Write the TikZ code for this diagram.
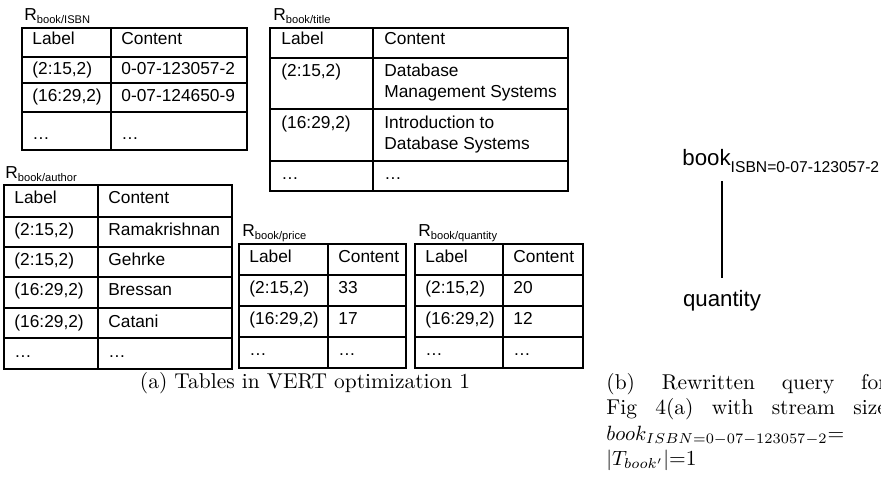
\documentclass[tikz,border=0pt]{standalone}
\usepackage{fontspec}
\newfontfamily\arialfont{Liberation Sans}
\usetikzlibrary{calc}

\tikzset{
  tbl/.style={black, line width=0.65pt},
  cell/.style={anchor=base west, inner sep=0, font=\arialfont\fontsize{8.4}{10}\selectfont},
  capt/.style={inner sep=0, font=\fontsize{10.4}{12.3}\selectfont},
  tree/.style={inner sep=0, font=\arialfont\fontsize{10.8}{13}\selectfont},
}
\newcommand{\rsub}[1]{R\raisebox{-1.3pt}{\fontsize{5.4}{6}\selectfont #1}}

\begin{document}
\begin{tikzpicture}[x=0.485pt, y=-0.485pt]
\useasboundingbox (0,0) rectangle (881,496);
\clip (0,0) rectangle (881,496);

% R_book/ISBN
\node[cell] (risbn) at (24,21) {\rsub{book/ISBN}};
\draw[tbl] (22,28) rectangle (247,150);
\draw[tbl] (111,28)--(111,150);
\foreach \y in {57,83,112} \draw[tbl] (22,\y)--(247,\y);
\foreach \y/\l/\c [count=\i] in {45/Label/Content, 75/{(2:15,2)}/0-07-123057-2, 102/{(16:29,2)}/0-07-124650-9, 140/\dots/\dots} {
 \node[cell] (isbnl\i) at (32,\y) {\l};
 \node[cell] (isbnc\i) at (121,\y) {\c};
}

% R_book/title
\node[cell] (rtitle) at (273,21) {\rsub{book/title}};
\draw[tbl] (270,28) rectangle (568,191);
\draw[tbl] (373,28)--(373,191);
\foreach \y in {58,109,161} \draw[tbl] (270,\y)--(568,\y);
\node[cell] (titlel1) at (281,45) {Label};
\node[cell] (titlec1) at (384,45) {Content};
\node[cell] (titlel2) at (281,77) {(2:15,2)};
\node[cell] (titlec2) at (384,77) {Database};
\node[cell] (titled2) at (384,98) {Management Systems};
\node[cell] (titlel3) at (281,129) {(16:29,2)};
\node[cell] (titlec3) at (384,129) {Introduction to};
\node[cell] (titled3) at (384,150) {Database Systems};
\node[cell] (titlel4) at (281,180) {\dots};
\node[cell] (titlec4) at (384,180) {\dots};

% R_book/author
\node[cell] (rauthor) at (5,179) {\rsub{book/author}};
\draw[tbl] (4,185) rectangle (232,369);
\draw[tbl] (98,185)--(98,369);
\foreach \y in {217,247,277,308,338} \draw[tbl] (4,\y)--(232,\y);
\foreach \y/\l/\c [count=\i] in {204/Label/Content, 236/{(2:15,2)}/Ramakrishnan, 266/{(2:15,2)}/Gehrke, 296/{(16:29,2)}/Bressan, 327/{(16:29,2)}/Catani, 357/\dots/\dots} {
 \node[cell] (authorl\i) at (14,\y) {\l};
 \node[cell] (authorc\i) at (108,\y) {\c};
}

% R_book/price and R_book/quantity
\foreach \x/\d/\r/\n/\a/\b in {239/328/406/price/33/17, 415/503/583/quantity/20/12} {
 \node[cell] (r\n) at (\x+3,237) {\rsub{book/\n}};
 \draw[tbl] (\x,244) rectangle (\r,368);
 \draw[tbl] (\d,244)--(\d,368);
 \foreach \y in {275,306,337} \draw[tbl] (\x,\y)--(\r,\y);
 \foreach \y/\l/\c [count=\i] in {263/Label/Content, 294/{(2:15,2)}/\a, 325/{(16:29,2)}/\b, 356/\dots/\dots} {
  \node[cell] (\n l\i) at (\x+10,\y) {\l};
  \node[cell] (\n c\i) at (\d+10,\y) {\c};
 }
}

% rewritten query
\node[tree, anchor=base west] (bk) at (682,166) {book\raisebox{-3pt}{\fontsize{7.6}{9}\selectfont ISBN=0-07-123057-2}};
\node[tree, anchor=base] (qty) at (722,307) {quantity};
\draw[line width=0.7pt, shorten <=6.2pt, shorten >=3.8pt] (qty.north) -- (qty.north |- bk.south);

% captions
\node[capt] (capa) at (305,383) {(a) Tables in VERT optimization 1};
\node[capt, anchor=north west, text width=136pt, align=left] (capb) at (606,373)
 {\makebox[136pt][l]{(b)\hfill Rewritten\hfill query\hfill for}\\
  \makebox[136pt][l]{Fig\hfill 4(a)\hfill with\hfill stream\hfill size}\\
  $book_{ISBN=0-07-123057-2}$=\\
  $|T_{book'}|$=1};
\end{tikzpicture}
\end{document}
